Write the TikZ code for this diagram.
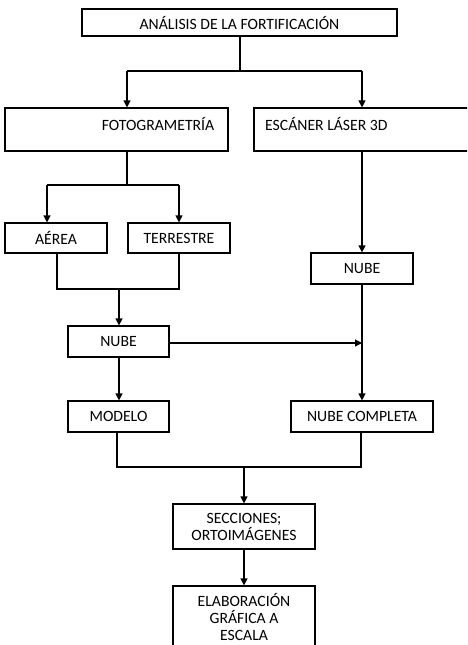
\documentclass[tikz,border=0pt]{standalone}
\usepackage{fontspec}
\setmainfont{Carlito}
\usetikzlibrary{arrows.meta}
\begin{document}
\begin{tikzpicture}[x=1pt,y=-1pt,
  font=\fontsize{15.7}{17}\selectfont,
  box/.style={draw, line width=1.2pt, inner sep=0pt, align=center},
  txt/.style={inner sep=0pt},
  ln/.style={line width=1.2pt},
  arr/.style={ln, -{Triangle[width=7pt,length=7pt]}}]
\path[use as bounding box, clip] (0,0) rectangle (467,645);
\fill[white] (0,0) rectangle (467,645);
% boxes
\node[box, minimum width=315, minimum height=27] (top) at (239.5,22.5) {ANÁLISIS DE LA FORTIFICACIÓN};
\node[box, minimum width=223, minimum height=43] (foto) at (116.5,129.5) {};
\node[txt] (fototxt) at (158,124) {FOTOGRAMETRÍA};
\node[box, minimum width=226, minimum height=43] (esc) at (367,129.5) {};
\node[txt, anchor=west] (esctxt) at (265,124) {ESCÁNER LÁSER 3D};
\node[box, minimum width=102, minimum height=30] (aerea) at (56,238) {AÉREA};
\node[box, minimum width=102, minimum height=30] (terr) at (179,238) {TERRESTRE};
\node[box, minimum width=102, minimum height=31] (nubeR) at (362,268.5) {NUBE};
\node[box, minimum width=101, minimum height=31] (nubeL) at (118.5,341.5) {NUBE};
\node[box, minimum width=101, minimum height=31] (modelo) at (118.5,416.5) {MODELO};
\node[box, minimum width=142, minimum height=31] (compl) at (362,416.5) {NUBE COMPLETA};
\node[box, minimum width=142, minimum height=45] (secc) at (244,526.5) {SECCIONES;\\ORTOIMÁGENES};
\node[box, minimum width=142, minimum height=62] (elab) at (244,617) {ELABORACIÓN\\GRÁFICA A\\ESCALA};
% junction coordinates
\coordinate (j1) at (240,71);
\coordinate (j1l) at (127,71);
\coordinate (j1r) at (362,71);
\coordinate (j2) at (127,185);
\coordinate (j2l) at (47,185);
\coordinate (j2r) at (179,185);
\coordinate (j3l) at (57,289);
\coordinate (j3r) at (179,289);
\coordinate (j3) at (119,289);
\coordinate (mrg) at (362,343);
\coordinate (jm) at (119,357);
\coordinate (j4l) at (117,467);
\coordinate (j4r) at (361,467);
\coordinate (j4) at (244,467);
% connectors
\draw[ln] (top.south -| j1) -- (j1);
\draw[ln] (j1l) -- (j1r);
\draw[arr] (j1l) -- (j1l |- foto.north);
\draw[arr] (j1r) -- (j1r |- esc.north);
\draw[ln] (foto.south -| j2) -- (j2);
\draw[ln] (j2l) -- (j2r);
\draw[arr] (j2l) -- (j2l |- aerea.north);
\draw[arr] (j2r) -- (j2r |- terr.north);
\draw[arr] (esc.south -| nubeR) -- (nubeR.north);
\draw[ln] (aerea.south -| j3l) -- (j3l) -- (j3r) -- (terr.south -| j3r);
\draw[arr] (j3) -- (j3 |- nubeL.north);
\draw[arr] (nubeL.east |- mrg) -- (mrg);
\draw[arr] (nubeR.south) -- (compl.north);
\draw[arr] (nubeL.south -| jm) -- (jm |- modelo.north);
\draw[ln] (modelo.south -| j4l) -- (j4l) -- (j4r) -- (compl.south -| j4r);
\draw[arr] (j4) -- (secc.north);
\draw[arr] (secc.south) -- (elab.north);
\end{tikzpicture}
\end{document}
